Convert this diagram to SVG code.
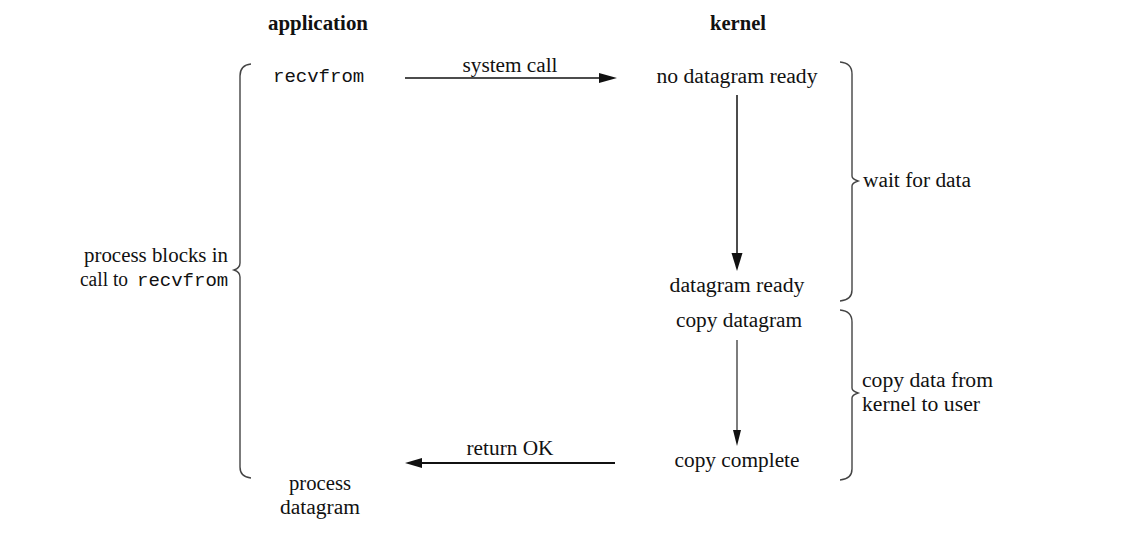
<svg xmlns="http://www.w3.org/2000/svg" width="1126" height="545" viewBox="0 0 1126 545">
<style>
.t{font-family:"Liberation Serif","Times New Roman",serif;font-size:20px;fill:#111}
.b{font-family:"Liberation Serif","Times New Roman",serif;font-size:20px;font-weight:bold;fill:#111}
.m{font-family:"Liberation Mono","Courier New",monospace;font-size:19px;fill:#111}
.br{fill:none;stroke:#444;stroke-width:1.4}
.ln{stroke:#111;stroke-width:1.5;fill:none}
.hd{fill:#111}
</style>
<rect width="1126" height="545" fill="#fff"/>
<g id="headers">
<text class="b" x="318" y="30" text-anchor="middle" textLength="100" lengthAdjust="spacingAndGlyphs">application</text>
<text class="b" x="738" y="30" text-anchor="middle" textLength="56" lengthAdjust="spacingAndGlyphs">kernel</text>
</g>
<g id="app-recvfrom"><text class="m" x="273" y="82">recvfrom</text></g>
<g id="k-nodata"><text class="t" x="737" y="83" text-anchor="middle" textLength="161" lengthAdjust="spacingAndGlyphs">no datagram ready</text></g>
<g id="k-ready"><text class="t" x="737" y="292" text-anchor="middle" textLength="135" lengthAdjust="spacingAndGlyphs">datagram ready</text></g>
<g id="k-copy"><text class="t" x="739" y="327" text-anchor="middle" textLength="126" lengthAdjust="spacingAndGlyphs">copy datagram</text></g>
<g id="k-complete"><text class="t" x="737" y="467" text-anchor="middle" textLength="125" lengthAdjust="spacingAndGlyphs">copy complete</text></g>
<g id="app-process">
<text class="t" x="320" y="490" text-anchor="middle" textLength="62" lengthAdjust="spacingAndGlyphs">process</text>
<text class="t" x="320" y="514" text-anchor="middle" textLength="80" lengthAdjust="spacingAndGlyphs">datagram</text>
</g>
<g id="brace-block">
<path class="br" d="M 251 64 Q 240 65 240 76 L 240 263 Q 240 268 234 270 Q 240 272 240 277 L 240 467 Q 240 477 251 478"/>
<text class="t" x="228" y="262" text-anchor="end" textLength="144" lengthAdjust="spacingAndGlyphs">process blocks in</text>
<text class="t" x="80" y="286" textLength="48" lengthAdjust="spacingAndGlyphs">call to</text>
<text class="m" x="137" y="286">recvfrom</text>
</g>
<g id="brace-wait">
<path class="br" d="M 840 62 Q 852 63 852 74 L 852 176 Q 852 179 858 181 Q 852 183 852 186 L 852 290 Q 852 300 840 301"/>
<text class="t" x="863" y="187" textLength="108" lengthAdjust="spacingAndGlyphs">wait for data</text>
</g>
<g id="brace-copy">
<path class="br" d="M 840 310 Q 852 311 852 322 L 852 388 Q 852 391 858 393 Q 852 395 852 398 L 852 469 Q 852 479 840 480"/>
<text class="t" x="862" y="387" textLength="131" lengthAdjust="spacingAndGlyphs">copy data from</text>
<text class="t" x="862" y="411" textLength="118" lengthAdjust="spacingAndGlyphs">kernel to user</text>
</g>
<g id="connectors">
<line class="ln" x1="405" y1="78" x2="601" y2="78"/>
<polygon class="hd" points="617,78 599,73 599,83"/>
<text class="t" x="510" y="72" text-anchor="middle" textLength="95" lengthAdjust="spacingAndGlyphs">system call</text>
<line class="ln" x1="737" y1="95" x2="737" y2="256"/>
<polygon class="hd" points="737,271 731.5,253 742.5,253"/>
<line class="ln" x1="737" y1="340" x2="737" y2="432" style="stroke-width:1.1"/>
<polygon class="hd" points="737,446 733,430 741,430"/>
<line class="ln" x1="615" y1="463" x2="420" y2="463" style="stroke-width:1.8"/>
<polygon class="hd" points="405,463 422,458 422,468"/>
<text class="t" x="510" y="455" text-anchor="middle" textLength="87" lengthAdjust="spacingAndGlyphs">return OK</text>
</g>
</svg>
